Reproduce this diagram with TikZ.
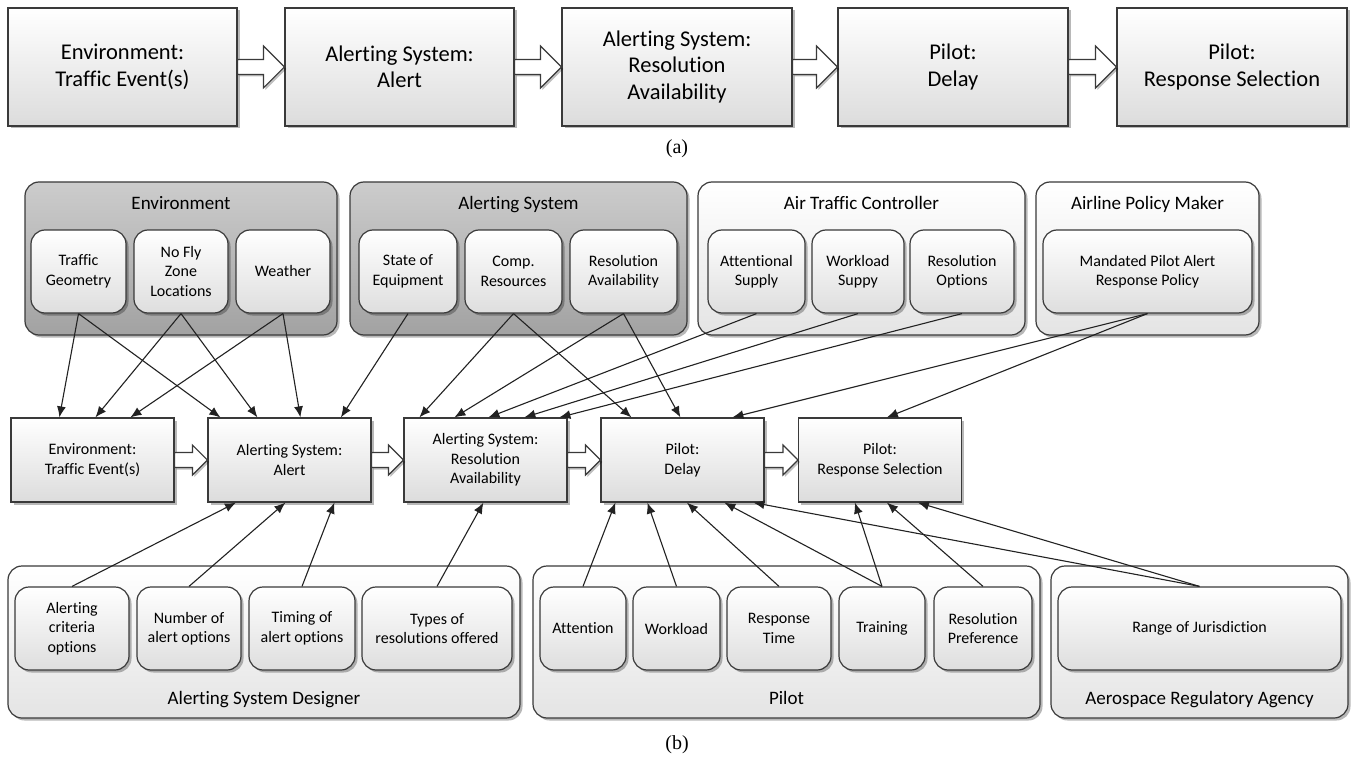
\documentclass[tikz,border=0pt]{standalone}
\usepackage{fontspec}
\setmainfont{Carlito}[Ligatures={NoCommon,NoContextual}]
\newfontfamily\capfont{Liberation Serif}
\usetikzlibrary{shadows,calc,arrows.meta}
\definecolor{bordc}{HTML}{3A3A3A}
\definecolor{linec}{HTML}{222222}
\definecolor{abot}{HTML}{DCDCDC}
\definecolor{dtop}{HTML}{CCCCCC}
\definecolor{dbot}{HTML}{A2A2A2}
\definecolor{lbot}{HTML}{E4E4E4}
\definecolor{ibot}{HTML}{DEDEDE}
\tikzset{
  base/.style={draw=bordc, line width=1.2pt, inner sep=0pt, align=center,
    drop shadow={shadow xshift=2.5pt, shadow yshift=-2.5pt, opacity=0.28, fill=black}},
  abox/.style={base, rectangle, top color=white, bottom color=abot,
    minimum height=118pt, font=\fontsize{22.5}{26.5}\selectfont},
  mbox/.style={base, rectangle, top color=white, bottom color=abot,
    minimum width=163pt, minimum height=84pt, font=\fontsize{16}{19.5}\selectfont},
  darkgrp/.style={base, rounded corners=14pt, top color=dtop, bottom color=dbot, minimum height=153pt},
  lightgrp/.style={base, rounded corners=14pt, top color=white, bottom color=lbot, minimum height=153pt},
  inbox/.style={base, rounded corners=14pt, top color=white, bottom color=ibot,
    minimum height=83pt, font=\fontsize{16}{19.5}\selectfont},
  gtitle/.style={inner sep=0pt, anchor=base, font=\fontsize{19}{23}\selectfont},
  conn/.style={draw=linec, line width=1.1pt, -{Latex[length=11pt,width=9pt]}},
  blk/.style={draw=bordc, line width=1.2pt, fill=white,
    drop shadow={shadow xshift=2pt, shadow yshift=-2pt, opacity=0.25, fill=black}},
  capt/.style={inner sep=0pt, font=\capfont\fontsize{20}{23}\selectfont}
}
\newcommand\blockarr[5]{%
  \path[blk] let \p1=(#1.east), \p2=(#2.west) in
    (\x1,\y1+#3) -- (\x2-#5,\y1+#3) -- (\x2-#5,\y1+#4) -- (\x2,\y1) --
    (\x2-#5,\y1-#4) -- (\x2-#5,\y1-#3) -- (\x1,\y1-#3) -- cycle;}
\begin{document}
\begin{tikzpicture}[x=1pt,y=-1pt]
\useasboundingbox[fill=white] (0,0) rectangle (1353,757);

% ---------- (a) ----------
\node[abox, minimum width=229pt] (a1) at (122.5,67) {Environment:\\Traffic Event(s)};
\node[abox, minimum width=229pt] (a2) at (399.5,67) {Alerting System:\\Alert};
\node[abox, minimum width=230pt] (a3) at (677,67) {Alerting System:\\Resolution\\Availability};
\node[abox, minimum width=230pt] (a4) at (953,67) {Pilot:\\Delay};
\node[abox, minimum width=230pt] (a5) at (1232,67) {Pilot:\\Response Selection};
\blockarr{a1}{a2}{7.5pt}{21pt}{21pt}
\blockarr{a2}{a3}{7.5pt}{21pt}{21pt}
\blockarr{a3}{a4}{7.5pt}{21pt}{21pt}
\blockarr{a4}{a5}{7.5pt}{21pt}{21pt}
\node[capt] (capa) at (677,149) {(a)};

% ---------- (b) top groups ----------
\node[darkgrp, minimum width=312pt] (gEnv) at (181,258.5) {};
\node[darkgrp, minimum width=337pt] (gAS) at (518.5,258.5) {};
\node[lightgrp, minimum width=327pt] (gATC) at (861.5,258.5) {};
\node[lightgrp, minimum width=223pt] (gAPM) at (1147.5,258.5) {};
\node[gtitle] (tEnv) at (181,209.5) {Environment};
\node[gtitle] (tAS) at (518.5,209.5) {Alerting System};
\node[gtitle] (tATC) at (861.5,209.5) {Air Traffic Controller};
\node[gtitle] (tAPM) at (1147.5,209.5) {Airline Policy Maker};

\node[inbox, minimum width=95pt] (tg) at (78.5,271.5) {Traffic\\Geometry};
\node[inbox, minimum width=94pt] (nf) at (181,271.5) {No Fly\\Zone\\Locations};
\node[inbox, minimum width=94pt] (we) at (283,271.5) {Weather};
\node[inbox, minimum width=98pt] (se) at (408,271.5) {State of\\Equipment};
\node[inbox, minimum width=97pt] (cr) at (513.5,271.5) {Comp.\\Resources};
\node[inbox, minimum width=107pt] (rav) at (623.5,271.5) {Resolution\\Availability};
\node[inbox, minimum width=97pt] (at) at (756.5,271.5) {Attentional\\Supply};
\node[inbox, minimum width=92pt] (ws) at (858,271.5) {Workload\\Suppy};
\node[inbox, minimum width=104pt] (ro) at (962,271.5) {Resolution\\Options};
\node[inbox, minimum width=209pt] (mp) at (1147.5,271.5) {Mandated Pilot Alert\\Response Policy};

% ---------- (b) middle row ----------
\node[mbox] (e) at (92.5,460) {Environment:\\Traffic Event(s)};
\node[mbox] (al) at (289.5,460) {Alerting System:\\Alert};
\node[mbox] (ra) at (485.5,460) {Alerting System:\\Resolution\\Availability};
\node[mbox] (de) at (682.5,460) {Pilot:\\Delay};
\node[mbox] (rs) at (880,460) {Pilot:\\Response Selection};
\blockarr{e}{al}{7.5pt}{15pt}{15pt}
\blockarr{al}{ra}{7.5pt}{15pt}{15pt}
\blockarr{ra}{de}{7.5pt}{15pt}{15pt}
\blockarr{de}{rs}{7.5pt}{15pt}{15pt}

% ---------- (b) bottom groups ----------
\node[lightgrp, minimum width=512pt, minimum height=152pt] (gASD) at (264,642) {};
\node[lightgrp, minimum width=507pt, minimum height=152pt] (gP) at (786.5,642) {};
\node[lightgrp, minimum width=297pt, minimum height=152pt] (gARA) at (1199.5,642) {};
\node[gtitle] (tASD) at (264,704.5) {Alerting System Designer};
\node[gtitle] (tP) at (786.5,704.5) {Pilot};
\node[gtitle] (tARA) at (1199.5,704.5) {Aerospace Regulatory Agency};

\node[inbox, minimum width=114pt] (ac) at (72,628.5) {Alerting\\criteria\\options};
\node[inbox, minimum width=104pt] (na) at (189,628.5) {Number of\\alert options};
\node[inbox, minimum width=106pt] (ti) at (302,628.5) {Timing of\\alert options};
\node[inbox, minimum width=150pt] (ty) at (437,628.5) {Types of\\resolutions offered};
\node[inbox, minimum width=86pt] (att) at (583,628.5) {Attention};
\node[inbox, minimum width=87pt] (wl) at (676.5,628.5) {Workload};
\node[inbox, minimum width=104pt] (rt) at (779,628.5) {Response\\Time};
\node[inbox, minimum width=86pt] (tr) at (882,628.5) {Training};
\node[inbox, minimum width=98pt] (rp) at (983,628.5) {Resolution\\Preference};
\node[inbox, minimum width=283pt] (rj) at (1199.5,628.5) {Range of Jurisdiction};

\node[capt] (capb) at (677,745) {(b)};

% ---------- connectors from above ----------
\draw[conn] (tg.south) -- ($(e.north west)+(49,0)$);
\draw[conn] (tg.south) -- ($(al.north west)+(13,0)$);
\draw[conn] (nf.south) -- ($(e.north west)+(85,0)$);
\draw[conn] (nf.south) -- ($(al.north west)+(50,0)$);
\draw[conn] (we.south) -- ($(e.north west)+(120,0)$);
\draw[conn] (we.south) -- ($(al.north west)+(93,0)$);
\draw[conn] (se.south) -- ($(al.north west)+(133.5,0)$);
\draw[conn] (cr.south) -- ($(ra.north west)+(16,0)$);
\draw[conn] (cr.south) -- ($(de.north west)+(31,0)$);
\draw[conn] (rav.south) -- ($(ra.north west)+(51,0)$);
\draw[conn] (rav.south) -- ($(de.north west)+(80,0)$);
\draw[conn] (at.south) -- ($(ra.north west)+(85,0)$);
\draw[conn] (ws.south) -- ($(ra.north west)+(121,0)$);
\draw[conn] (ro.south) -- ($(ra.north west)+(156,0)$);
\draw[conn] (mp.south) -- ($(de.north west)+(132,0)$);
\draw[conn] (mp.south) -- ($(rs.north west)+(89,0)$);

% ---------- connectors from below ----------
\draw[conn] (ac.north) -- ($(al.south west)+(28.6,0)$);
\draw[conn] (na.north) -- ($(al.south west)+(78,0)$);
\draw[conn] (ti.north) -- ($(al.south west)+(127,0)$);
\draw[conn] (ty.north) -- ($(ra.south west)+(80,0)$);
\draw[conn] (att.north) -- ($(de.south west)+(15,0)$);
\draw[conn] (wl.north) -- ($(de.south west)+(47,0)$);
\draw[conn] (rt.north) -- ($(de.south west)+(86.5,0)$);
\draw[conn] (tr.north) -- ($(de.south west)+(124,0)$);
\draw[conn] (tr.north) -- ($(rs.south west)+(57,0)$);
\draw[conn] (rp.north) -- ($(rs.south west)+(89,0)$);
\draw[conn] (rj.north) -- ($(de.south west)+(153,0)$);
\draw[conn] (rj.north) -- ($(rs.south west)+(120,0)$);
\end{tikzpicture}
\end{document}
